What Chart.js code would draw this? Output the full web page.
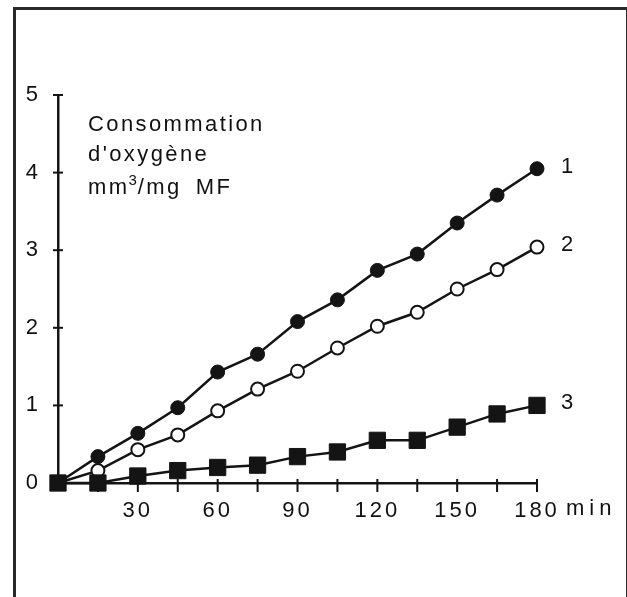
<!DOCTYPE html>
<html>
<head>
<meta charset="utf-8">
<script src="https://cdn.jsdelivr.net/npm/chart.js"></script>
<style>
  html, body { margin: 0; padding: 0; background: #fff; }
  #wrap { position: relative; width: 627px; height: 597px; overflow: hidden; }
  #frame { position: absolute; left: 13px; top: 7px; width: 610px; height: 600px;
           border: 3px solid #2a2a2a; border-bottom: none; }
  canvas { position: absolute; left: 0; top: 0; }
</style>
</head>
<body>
<div id="wrap">
  <div id="frame"></div>
  <canvas id="chart" width="627" height="597"></canvas>
</div>
<script>
// temps en minutes
const minutes = [0, 15, 30, 45, 60, 75, 90, 105, 120, 135, 150, 165, 180];
// consommation d'oxygène (mm3/mg MF)
const serie1 = [0, 0.34, 0.64, 0.97, 1.43, 1.66, 2.08, 2.36, 2.74, 2.95, 3.35, 3.71, 4.05];
const serie2 = [0, 0.16, 0.43, 0.62, 0.93, 1.21, 1.44, 1.74, 2.02, 2.20, 2.50, 2.75, 3.04];
const serie3 = [0, 0, 0.09, 0.16, 0.20, 0.23, 0.34, 0.40, 0.55, 0.55, 0.72, 0.89, 1.00];
const seriesNames = ['1', '2', '3'];
const xLabels = [30, 60, 90, 120, 150, 180];
const yMax = 5;
const titleLines = ['Consommation', "d'oxygène"];

const ink = '#141414';
const txt = '#111';
const FONT = '"Liberation Sans", Arial, sans-serif';
const pts = arr => minutes.map((m, i) => ({ x: m, y: arr[i] }));

// petites croix des graduations + textes
const decor = {
  id: 'decor',
  beforeDraw(chart) { chart.ctx.letterSpacing = '3px'; },
  afterDraw(chart) {
    const ctx = chart.ctx;
    const xs = chart.scales.x, ys = chart.scales.y;
    ctx.save();
    ctx.letterSpacing = '0px';
    ctx.strokeStyle = ink;
    ctx.lineWidth = 2;
    const x0 = xs.getPixelForValue(0), y0 = ys.getPixelForValue(0);
    minutes.forEach(m => {
      if (m === 0) return;
      const px = xs.getPixelForValue(m);
      ctx.beginPath(); ctx.moveTo(px, y0 - 4); ctx.lineTo(px, y0 + 9); ctx.stroke();
    });
    for (let v = 1; v <= yMax; v++) {
      const py = ys.getPixelForValue(v);
      ctx.beginPath(); ctx.moveTo(x0 - 5, py); ctx.lineTo(x0 + 5, py); ctx.stroke();
    }

    ctx.fillStyle = txt;
    ctx.textBaseline = 'alphabetic';
    ctx.textAlign = 'left';
    ctx.font = '22px ' + FONT;
    ctx.letterSpacing = '2.4px';
    const tx = x0 + 30;
    ctx.fillText(titleLines[0], tx, ys.getPixelForValue(4.54));
    ctx.fillText(titleLines[1], tx, ys.getPixelForValue(4.15));
    // mm3/mg  MF avec exposant
    const by = ys.getPixelForValue(3.72);
    let cx = tx;
    ctx.fillText('mm', cx, by);
    cx += ctx.measureText('mm').width - 1;
    ctx.font = '15px ' + FONT;
    ctx.letterSpacing = '1px';
    ctx.fillText('3', cx, by - 9);
    cx += ctx.measureText('3').width;
    ctx.font = '22px ' + FONT;
    ctx.letterSpacing = '2.4px';
    ctx.fillText('/mg', cx, by);
    cx += ctx.measureText('/mg').width + 14;
    ctx.fillText('MF', cx, by);

    // unité de l'axe x
    ctx.letterSpacing = '5px';
    ctx.textBaseline = 'middle';
    ctx.fillText('min', xs.getPixelForValue(180) + 29, y0 + 26);

    // numéros des courbes
    ctx.letterSpacing = '0px';
    chart.data.datasets.forEach((ds, i) => {
      const last = ds.data[ds.data.length - 1];
      ctx.fillText(seriesNames[i], xs.getPixelForValue(last.x) + 24, ys.getPixelForValue(last.y) - 2);
    });
    ctx.restore();
  }
};

new Chart(document.getElementById('chart'), {
  type: 'line',
  data: {
    datasets: [
      { data: pts(serie1), borderColor: ink, borderWidth: 2.5, backgroundColor: ink,
        pointStyle: 'circle', pointRadius: 7, pointBorderWidth: 1, order: 2, clip: false },
      { data: pts(serie2), borderColor: ink, borderWidth: 2.5, backgroundColor: '#fff',
        pointStyle: 'circle', pointRadius: 6.5, pointBorderWidth: 2, order: 1, clip: false },
      { data: pts(serie3), borderColor: ink, borderWidth: 2.5, backgroundColor: ink,
        pointStyle: 'rect', pointRadius: 11.5, pointBorderWidth: 1, order: 0, clip: false }
    ]
  },
  options: {
    responsive: false,
    animation: false,
    events: [],
    layout: { padding: { top: 95, right: 90, bottom: 0, left: 0 } },
    plugins: { legend: { display: false }, tooltip: { enabled: false } },
    scales: {
      x: {
        type: 'linear', min: 0, max: 180,
        afterFit: s => { s.height = 114; },
        grid: { display: false, drawTicks: false },
        border: { display: true, color: ink, width: 2.5 },
        ticks: {
          stepSize: 15, autoSkip: false, maxRotation: 0, padding: 15, color: txt,
          font: { family: FONT, size: 22 },
          callback: v => xLabels.includes(v) ? String(v) : ''
        }
      },
      y: {
        min: 0, max: yMax,
        afterFit: s => { s.width = 58; },
        grid: { display: false, drawTicks: false },
        border: { display: true, color: ink, width: 2.5 },
        ticks: {
          stepSize: 1, padding: 17, color: txt,
          font: { family: FONT, size: 22 }
        }
      }
    }
  },
  plugins: [decor]
});
</script>
</body>
</html>
